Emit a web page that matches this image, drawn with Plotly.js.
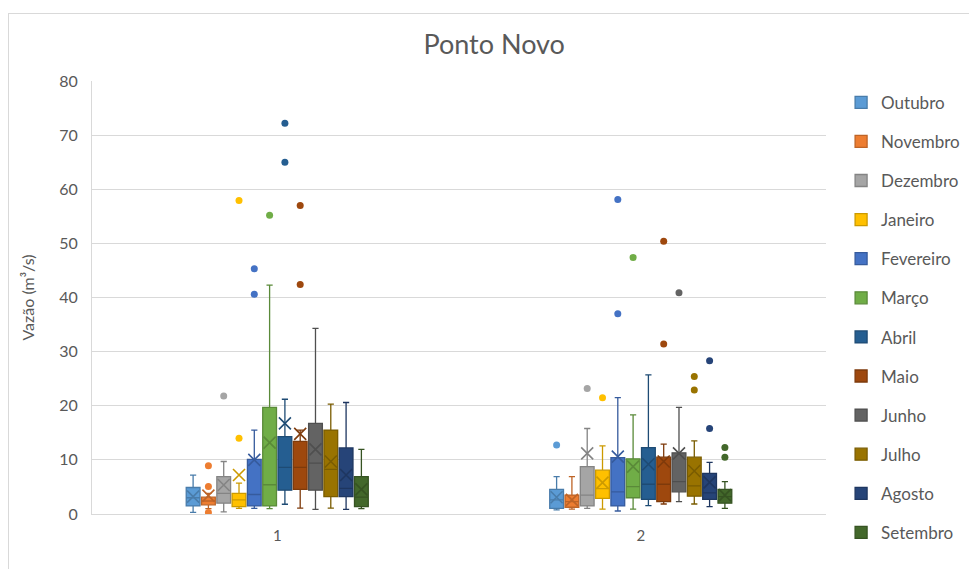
<!DOCTYPE html>
<html>
<head>
<meta charset="utf-8">
<script src="https://cdn.plot.ly/plotly-3.0.1.min.js"></script>
<style>
body{margin:0;background:#fff;}
#frame{position:absolute;left:8px;top:13px;width:980px;height:600px;border-left:1px solid #d9d9d9;border-top:1px solid #d9d9d9;pointer-events:none;}
#chart{position:absolute;left:0;top:0;width:969px;height:569px;}
</style>
</head>
<body>
<div id="chart"></div>
<div id="frame"></div>
<script>
// Data
const groups = ['1', '2'];
const months = ['Outubro','Novembro','Dezembro','Janeiro','Fevereiro','Março','Abril','Maio','Junho','Julho','Agosto','Setembro'];
const lowerWhisker = [[0.3,0.75],[1.0,0.9],[0.4,1.05],[1.05,0.9],[1.05,0.55],[1.0,0.9],[1.8,1.55],[1.1,1.85],[0.86,2.3],[1.1,1.85],[0.86,1.35],[1.0,1.05]];
const q1 = [[1.5,1.05],[1.7,1.25],[2.0,1.5],[1.35,2.9],[1.5,1.5],[1.5,3.0],[4.4,2.7],[4.55,2.3],[4.4,4.1],[3.2,3.3],[3.2,2.7],[1.35,2.0]];
const median = [[3.0,2.6],[2.4,2.3],[3.8,3.5],[2.6,4.7],[3.6,4.1],[5.4,5.05],[8.6,5.5],[8.6,5.5],[9.4,6.0],[8.25,5.2],[4.75,3.9],[3.1,3.2]];
const q3 = [[4.9,4.55],[3.1,3.5],[6.9,8.75],[3.8,8.1],[10.1,10.4],[19.7,10.2],[14.3,12.25],[13.4,10.5],[16.75,11.3],[15.5,10.5],[12.2,7.5],[6.9,4.55]];
const upperWhisker = [[7.2,6.9],[3.8,6.9],[9.7,15.8],[5.7,12.6],[15.5,21.5],[42.3,18.3],[21.2,25.7],[15.5,12.9],[34.3,19.7],[20.3,13.5],[20.6,9.55],[11.95,6.0]];
const means = [[3.2,3.1],[3.4,2.6],[5.35,11.2],[7.2,5.8],[10.0,10.6],[13.2,8.75],[16.75,9.2],[14.8,9.7],[11.95,11.2],[9.7,7.95],[7.2,5.85],[4.55,3.5]];
// outliers per group (null = none)
const outliers = [
  [[null],[12.75]],
  [[8.9,5.1,0.3],[null]],
  [[21.8],[23.2]],
  [[14.0,57.9],[21.5]],
  [[40.6,45.3],[37.0,58.1]],
  [[55.2],[47.4]],
  [[65.0,72.2],[null]],
  [[42.4,57.0],[31.4,50.4]],
  [[null],[40.9]],
  [[null],[22.9,25.4]],
  [[null],[15.8,28.3]],
  [[null],[10.5,12.3]]
];

// Styles
const fills = ['#5B9BD5','#ED7D31','#A5A5A5','#FFC000','#4472C4','#70AD47','#255E91','#9E480E','#636363','#997300','#264478','#43682B'];
function darker(hex, f){
  const n = parseInt(hex.slice(1),16);
  const r = Math.round(((n>>16)&255)*f), g = Math.round(((n>>8)&255)*f), b = Math.round((n&255)*f);
  return 'rgb('+r+','+g+','+b+')';
}
const GAP = 0.495;
const traces = [];
months.forEach((m,i)=>{
  traces.push({
    type:'box', name:m, x:groups, y:outliers[i],
    q1:q1[i], median:median[i], q3:q3[i],
    lowerfence:lowerWhisker[i], upperfence:upperWhisker[i],
    boxpoints:'outliers', jitter:0, pointpos:0,
    fillcolor:fills[i], line:{color:darker(fills[i],0.8), width:1.3},
    marker:{color:fills[i], size:7, line:{width:0}},
    whiskerwidth:0.45, legendgroup:m, hoverinfo:'skip'
  });
});
months.forEach((m,i)=>{
  traces.push({
    type:'scatter', mode:'markers', x:groups, y:means[i], showlegend:false,
    legendgroup:m, cliponaxis:false, hoverinfo:'skip',
    marker:{symbol:'x-thin-open', size:12, color:darker(fills[i],0.8), line:{color:darker(fills[i],0.8), width:1.6}}
  });
});

const FONT = 'Lato, "Open Sans", sans-serif';
const layout = {
  width:969, height:569,
  margin:{l:92, r:143, t:81, b:55, autoexpand:false},
  paper_bgcolor:'#fff', plot_bgcolor:'#fff',
  font:{family:FONT, color:'#595959', size:15},
  title:{text:'Ponto Novo', font:{size:27, color:'#595959', family:FONT}, x:0.51, xanchor:'center', xref:'container', y:0.921, yanchor:'middle', yref:'container'},
  boxmode:'group', boxgap:GAP, boxgroupgap:0.1,
  scattermode:'group', scattergap:GAP,
  showlegend:true,
  legend:{x:0.868, xanchor:'left', xref:'container', y:0.4416, yanchor:'middle', yref:'container', traceorder:'grouped', tracegroupgap:14, maxheight:560, font:{size:17, color:'#595959'}, itemwidth:30},
  xaxis:{type:'category', showline:true, linecolor:'#d9d9d9', linewidth:1, ticks:'', ticklabelstandoff:8, tickfont:{size:15, color:'#595959'}, showgrid:false, zeroline:false},
  yaxis:{range:[0,80], dtick:10, showline:true, linecolor:'#d9d9d9', gridcolor:'#d9d9d9', gridwidth:1, zeroline:false, ticks:'', ticklabelstandoff:10, tickfont:{size:16, color:'#595959'},
    title:{text:'Vazão (m³/s)', font:{size:16, color:'#595959'}, standoff:20}}
};
Plotly.newPlot('chart', traces, layout, {displayModeBar:false, staticPlot:true});
</script>
</body>
</html>
